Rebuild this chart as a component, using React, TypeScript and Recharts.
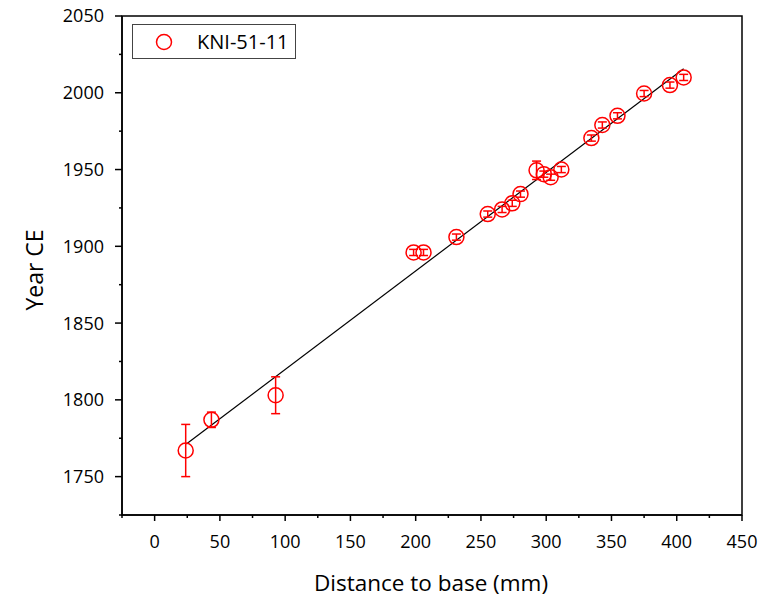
import React from "react";
import {
  ComposedChart,
  Scatter,
  ErrorBar,
  XAxis,
  YAxis,
  ReferenceLine,
  ReferenceArea,
} from "recharts";

const distance = [23.8, 43.5, 92.7, 198.4, 206, 231.2, 255.2, 266.2, 274, 280.3, 292.6, 298.2, 303.4, 311.6, 334.6, 343, 354.6, 375, 394.8, 405.3];
const year = [1767, 1787, 1803, 1896, 1896, 1906, 1921, 1924, 1928, 1934, 1949.5, 1947, 1945, 1950, 1970.5, 1979, 1985, 1999.5, 2005, 2010];
const yearErr = [17, 5, 12, 2, 2, 2, 2, 2, 2, 2, 6, 2, 2, 2, 2, 2, 2, 2, 2, 2];

const fitX = [24.3, 405.3];
const fitY = [1771.3, 2015.6];

const xTicks = [-25, 0, 25, 50, 75, 100, 125, 150, 175, 200, 225, 250, 275, 300, 325, 350, 375, 400, 425, 450];
const yTicks = [1725, 1750, 1775, 1800, 1825, 1850, 1875, 1900, 1925, 1950, 1975, 2000, 2025, 2050];

const seriesName = "KNI-51-11";
const FONT = "'Open Sans', sans-serif";
const RED = "#ff0000";

const points = distance.map((d, i) => ({ x: d, y: year[i], err: yearErr[i] }));

const XTick = (props: any) => {
  const { x, y, payload } = props;
  const major = payload.value % 50 === 0;
  return (
    <g>
      <line x1={x} y1={y} x2={x} y2={y + (major ? 6 : 3)} stroke="#000" strokeWidth={1.5} />
      {major && (
        <text x={x} y={y + 33} textAnchor="middle" fontSize={18} fontFamily={FONT} fill="#000">
          {payload.value}
        </text>
      )}
    </g>
  );
};

const YTick = (props: any) => {
  const { x, y, payload } = props;
  const major = payload.value % 50 === 0;
  return (
    <g>
      <line x1={x} y1={y} x2={x - (major ? 7 : 3)} y2={y} stroke="#000" strokeWidth={1.5} />
      {major && (
        <text x={x - 18} y={y} dy="0.36em" textAnchor="end" fontSize={18} fontFamily={FONT} fill="#000">
          {payload.value}
        </text>
      )}
    </g>
  );
};

const Ring = (props: any) => {
  const { cx, cy } = props;
  return <circle cx={cx} cy={cy} r={7.5} fill="none" stroke={RED} strokeWidth={1.5} />;
};

export default function App() {
  return (
    <div style={{ position: "relative", width: 769, height: 597, margin: "-8px 0 0 -8px" }}>
      <ComposedChart width={769} height={597} margin={{ top: 16, right: 27, bottom: 0, left: 0 }}>
        <XAxis
          type="number"
          dataKey="x"
          domain={[-25, 450]}
          ticks={xTicks}
          interval={0}
          allowDataOverflow
          height={82}
          tickSize={0}
          tickMargin={0}
          tickLine={false}
          tick={<XTick />}
          axisLine={{ stroke: "#000", strokeWidth: 1.5 }}
          label={{
            content: () => (
              <text x={431} y={591} textAnchor="middle" fontSize={22.5} fontFamily={FONT} fill="#000">
                Distance to base (mm)
              </text>
            ),
          }}
        />
        <YAxis
          type="number"
          dataKey="y"
          domain={[1725, 2050]}
          ticks={yTicks}
          interval={0}
          allowDataOverflow
          width={122}
          tickSize={0}
          tickMargin={0}
          tickLine={false}
          tick={<YTick />}
          axisLine={{ stroke: "#000", strokeWidth: 1.5 }}
          label={{
            content: () => (
              <text
                x={35}
                y={270}
                transform="rotate(-90 35 270)"
                textAnchor="middle"
                dy="0.36em"
                fontSize={23}
                fontFamily={FONT}
                fill="#000"
              >
                Year CE
              </text>
            ),
          }}
        />
        <ReferenceArea x1={-25} x2={450} y1={1725} y2={2050} fill="none" stroke="#000" strokeWidth={1.5} ifOverflow="visible" />
        <ReferenceLine
          segment={[
            { x: fitX[0], y: fitY[0] },
            { x: fitX[1], y: fitY[1] },
          ]}
          stroke="#000"
          strokeWidth={1.2}
        />
        <Scatter name={seriesName} data={points} shape={<Ring />} isAnimationActive={false}>
          <ErrorBar dataKey="err" direction="y" width={4.5} stroke={RED} strokeWidth={1.5} />
        </Scatter>
      </ComposedChart>
      <div
        style={{
          position: "absolute",
          left: 132,
          top: 24,
          width: 164,
          height: 35,
          border: "1px solid #444",
          boxSizing: "border-box",
          display: "flex",
          alignItems: "center",
          fontFamily: FONT,
          fontSize: 20,
          background: "#fff",
        }}
      >
        <svg width={64} height={32} style={{ flex: "none" }}>
          <circle cx={31} cy={16} r={7.5} fill="none" stroke={RED} strokeWidth={1.5} />
        </svg>
        <span style={{ lineHeight: 1 }}>{seriesName}</span>
      </div>
    </div>
  );
}
